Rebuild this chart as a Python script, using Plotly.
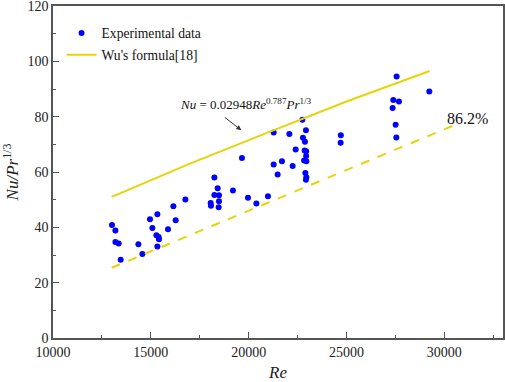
import plotly.graph_objects as go

# Experimental data (Re, Nu/Pr^1/3)
re_exp = [13015, 13189, 13189, 13357, 13459, 14364, 14568, 14957, 15079, 15335,
          15284, 15401, 15417, 15335, 15877, 16152, 16270, 16766, 18248, 18416,
          18248, 18483, 18058, 18074, 18483, 18467, 19198, 19965, 20394, 20987,
          21482, 22898, 22949, 22928, 19658, 21278, 22080, 22744, 22928, 22775,
          22877, 22402, 22862, 22938, 22938, 22836, 22949, 21278, 21702, 22249,
          24712, 24701, 27563, 29234, 27394, 27681, 27359, 27512, 27548]
nu_exp = [40.8, 38.9, 34.7, 34.2, 28.3, 33.9, 30.4, 42.9, 39.8, 44.7,
          37.1, 36.5, 35.7, 33.1, 39.3, 47.6, 42.6, 50.1, 58.0, 54.1,
          51.7, 51.6, 48.8, 47.8, 49.4, 47.3, 53.3, 50.7, 48.6, 51.2,
          59.1, 59.6, 58.1, 57.2, 65.1, 74.3, 73.7, 78.9, 75.1, 72.4,
          70.9, 68.1, 67.8, 67.5, 65.8, 64.2, 63.9, 62.7, 63.9, 62.2,
          73.3, 70.6, 94.5, 89.1, 86.0, 85.5, 83.1, 77.1, 72.5]

# Wu's formula line
re_wu = [13000, 17000, 21000, 25000, 29250]
nu_wu = [51.0, 63.0, 74.3, 85.5, 96.5]

# 86.2% dashed line
re_band = [13000, 30500]
nu_band = [25.4, 76.9]

x_ticks = [10000, 15000, 20000, 25000, 30000]
y_ticks = [0, 20, 40, 60, 80, 100, 120]

YELLOW = "#E6D40A"
FONT = "Liberation Serif"

fig = go.Figure()
fig.add_trace(go.Scatter(x=re_exp, y=nu_exp, mode="markers", name="Experimental data",
                         marker=dict(color="#0000FF", size=6), legendgroup="a"))
fig.add_trace(go.Scatter(x=re_wu, y=nu_wu, mode="lines", name="Wu's formula[18]",
                         line=dict(color=YELLOW, width=2), legendgroup="b"))
fig.add_trace(go.Scatter(x=re_band, y=nu_band, mode="lines", showlegend=False,
                         line=dict(color=YELLOW, width=2, dash="dash")))

axis_common = dict(showline=True, linecolor="#555555", linewidth=1.5, mirror=True,
                   ticks="inside", ticklen=6, tickcolor="#555555", showgrid=False,
                   zeroline=False, automargin=False, ticklabeloverflow="allow",
                   tickfont=dict(family=FONT, size=14, color="#222"))

fig.update_xaxes(range=[10000, 33000], tickvals=x_ticks, ticktext=[str(v) for v in x_ticks],
                 minor=dict(ticks="inside", ticklen=3, tickcolor="#555555", dtick=2500, showgrid=False),
                 title=dict(text="<i>Re</i>", font=dict(family=FONT, size=17, color="#222"), standoff=9),
                 **axis_common)
fig.update_yaxes(range=[0, 120], tickvals=y_ticks, ticktext=[str(v) for v in y_ticks],
                 minor=dict(ticks="inside", ticklen=3, tickcolor="#555555", dtick=10, showgrid=False),
                 title=dict(text="<i>Nu/Pr</i><sup>1/3</sup>", font=dict(family=FONT, size=17, color="#222"), standoff=12),
                 **axis_common)

fig.add_annotation(x=19873, y=84.5, xref="x", yref="y",
                   text="<i>Nu</i> = 0.02948<i>Re</i><sup>0.787</sup><i>Pr</i><sup>1/3</sup>",
                   showarrow=False, font=dict(family=FONT, size=13, color="#111"))
fig.add_annotation(x=19627, y=75.1, ax=-18, ay=-14, xref="x", yref="y",
                   text="", showarrow=True, arrowhead=2, arrowsize=1, arrowwidth=1, arrowcolor="#333")
fig.add_annotation(x=30050, y=79.2, xref="x", yref="y", xanchor="left",
                   text="86.2%", showarrow=False, font=dict(family=FONT, size=16, color="#111"))

fig.update_layout(
    width=505, height=382,
    margin=dict(l=53, r=2, t=6, b=44),
    plot_bgcolor="white", paper_bgcolor="white",
    showlegend=True,
    legend=dict(x=0.019, y=0.965, xanchor="left", yanchor="top", bgcolor="rgba(0,0,0,0)",
                font=dict(family=FONT, size=13.6, color="#111"), tracegroupgap=1,
                traceorder="grouped"),
)

fig.write_html("out.html", config={"displayModeBar": False},
               post_script="document.body.style.margin='0';document.body.style.padding='0';")
